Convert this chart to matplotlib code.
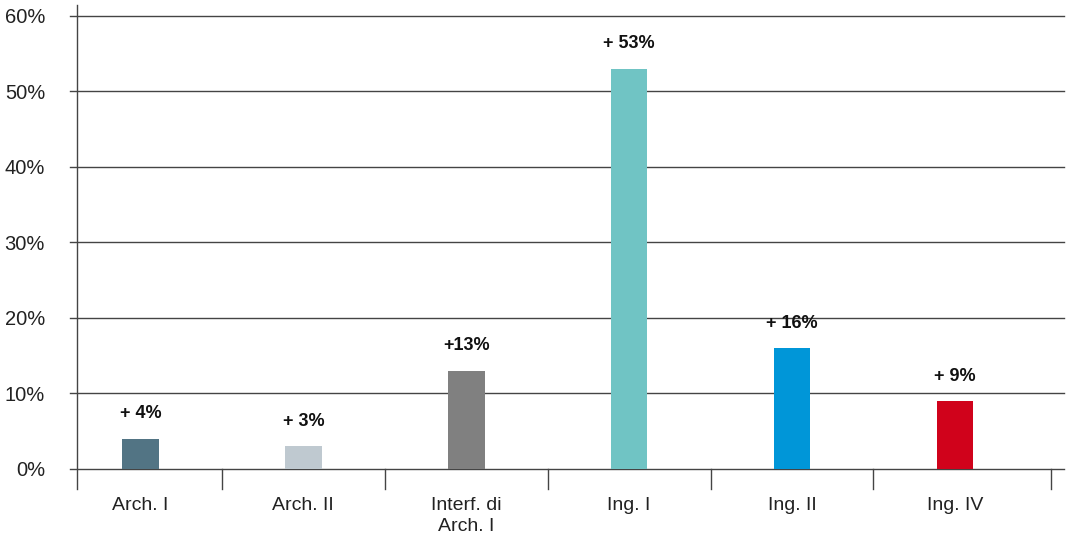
import numpy as np
import matplotlib
matplotlib.use('Agg')
import matplotlib.pyplot as plt

# Dati: incremento percentuale per corso
categorie = ['Arch. I', 'Arch. II', 'Interf. di\nArch. I', 'Ing. I', 'Ing. II', 'Ing. IV']
valori = [4, 3, 13, 53, 16, 9]
etichette = ['+ 4%', '+ 3%', '+13%', '+ 53%', '+ 16%', '+ 9%']
colori = ['#527484', '#bfc9d0', '#808080', '#70c4c4', '#0096d8', '#d0021b']
yticks = [0, 10, 20, 30, 40, 50, 60]

plt.rcParams['font.family'] = ['Liberation Sans', 'DejaVu Sans']

fig = plt.figure(figsize=(10.78, 5.4), dpi=100)
ax = fig.add_axes([0.0714, 0.1315, 0.9156, 0.8389])

x = np.arange(len(categorie))
ax.bar(x, valori, width=0.225, color=colori, zorder=3)

for xi, v, lbl in zip(x, valori, etichette):
    ax.annotate(lbl, (xi, v), xytext=(0, 18), textcoords='offset points',
                ha='center', va='center', fontsize=13, fontweight='bold',
                color='#111111')

ax.set_xlim(-0.39, 5.67)
ax.set_ylim(0, 60)

# griglia orizzontale che sporge a sinistra come tacca
for t in yticks:
    ax.plot([-0.007, 1], [t / 60, t / 60], transform=ax.transAxes,
            color='#444444', lw=1.0, clip_on=False, zorder=2)
# asse verticale
ax.plot([0, 0], [-0.045, 1.025], transform=ax.transAxes,
        color='#444444', lw=1.0, clip_on=False, zorder=2)

for s in ax.spines.values():
    s.set_visible(False)

ax.set_yticks(yticks)
ax.set_yticklabels([f'{t}%' for t in yticks], fontsize=14.5, color='#222222')
ax.tick_params(axis='y', length=0, pad=23)

ax.set_xticks(x)
ax.set_xticklabels(categorie, fontsize=14, color='#222222', linespacing=1.3)
ax.tick_params(axis='x', length=0, pad=20)

# tacche di separazione tra le categorie
for b in list(x[:-1] + 0.5) + [5.59]:
    ax.plot([b, b], [0, -0.045], transform=ax.get_xaxis_transform(),
            color='#444444', lw=1.0, clip_on=False)

fig.savefig('out.png', dpi=100)
